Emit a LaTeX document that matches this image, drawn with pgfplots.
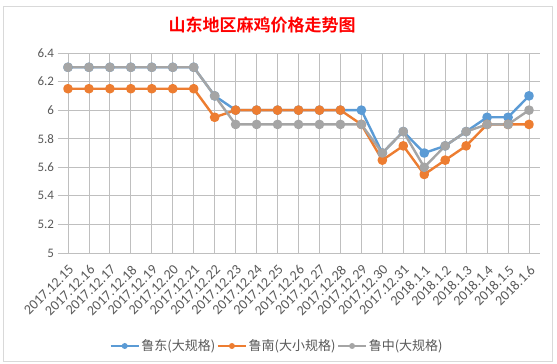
\documentclass[border=0pt]{standalone}
\usepackage{pgfplots}
\pgfplotsset{compat=1.18}
\usepackage{fontspec}
\setmainfont{Carlito}
\newfontfamily\cjk{Noto Sans CJK SC}[BoldFont={Noto Sans CJK SC Bold}]
\definecolor{cblue}{HTML}{5B9BD5}
\definecolor{corange}{HTML}{ED7D31}
\definecolor{cgray}{HTML}{A5A5A5}
\definecolor{txt}{HTML}{595959}
\definecolor{grid}{HTML}{D9D9D9}
\begin{document}
\begin{tikzpicture}[x=1pt,y=1pt]
\useasboundingbox (0,0) rectangle (557,364);
\fill[white] (0,0) rectangle (557,364);
\draw[grid,line width=0.8pt] (3,3) rectangle (552,358);
\node[text=red,font=\cjk\bfseries\fontsize{17}{20}\selectfont] at (262,339) {山东地区麻鸡价格走势图};
\begin{axis}[
  at={(57.5pt,111pt)}, anchor=south west,
  scale only axis, width=482pt, height=200pt,
  xmin=-0.5, xmax=22.5, ymin=5, ymax=6.4,
  ytick={5,5.2,5.4,5.6,5.8,6,6.2,6.4},
  xtick={0,...,22},
  xticklabels={2017.12.15,2017.12.16,2017.12.17,2017.12.18,2017.12.19,2017.12.20,2017.12.21,2017.12.22,2017.12.23,2017.12.24,2017.12.25,2017.12.26,2017.12.27,2017.12.28,2017.12.29,2017.12.30,2017.12.31,2018.1.1,2018.1.2,2018.1.3,2018.1.4,2018.1.5,2018.1.6},
  xticklabel shift=11pt,
  xticklabel style={rotate=45, anchor=north east, font=\fontsize{14}{16}\selectfont, text=txt, inner sep=0pt},
  yticklabel style={font=\fontsize{13}{15}\selectfont, text=txt},
  /pgf/number format/assume math mode=true,
  axis line style={draw=none},
  major tick length=0pt,
  ymajorgrids, major grid style={grid, line width=0.8pt},
  clip=false,
  legend style={at={(0.455,-0.465)}, anchor=center, draw=none, fill=none,
    legend columns=3, font=\cjk\fontsize{13}{15}\selectfont, text=txt,
    nodes={inner sep=1.5pt},
    /tikz/every even column/.append style={column sep=0pt}},
  legend cell align=left,
  legend image code/.code={\draw[#1] (0pt,0pt) -- (28pt,0pt); \fill[#1,draw=none] (14pt,0pt) circle (3pt);},
  every axis plot/.append style={line width=2.4pt, mark=*, mark size=3.6pt, line join=round},
]
\addplot[cblue, mark options={fill=cblue, draw=cblue}] coordinates {
(0,6.3)(1,6.3)(2,6.3)(3,6.3)(4,6.3)(5,6.3)(6,6.3)(7,6.1)(8,6.0)(9,6.0)(10,6.0)(11,6.0)(12,6.0)(13,6.0)(14,6.0)(15,5.7)(16,5.85)(17,5.7)(18,5.75)(19,5.85)(20,5.95)(21,5.95)(22,6.1)};
\addlegendentry{鲁东(大规格)}
\addplot[corange, mark options={fill=corange, draw=corange}] coordinates {
(0,6.15)(1,6.15)(2,6.15)(3,6.15)(4,6.15)(5,6.15)(6,6.15)(7,5.95)(8,6.0)(9,6.0)(10,6.0)(11,6.0)(12,6.0)(13,6.0)(14,5.9)(15,5.65)(16,5.75)(17,5.55)(18,5.65)(19,5.75)(20,5.9)(21,5.9)(22,5.9)};
\addlegendentry{鲁南(大小规格)}
\addplot[cgray, mark options={fill=cgray, draw=cgray}] coordinates {
(0,6.3)(1,6.3)(2,6.3)(3,6.3)(4,6.3)(5,6.3)(6,6.3)(7,6.1)(8,5.9)(9,5.9)(10,5.9)(11,5.9)(12,5.9)(13,5.9)(14,5.9)(15,5.7)(16,5.85)(17,5.6)(18,5.75)(19,5.85)(20,5.9)(21,5.9)(22,6.0)};
\addlegendentry{鲁中(大规格)}
\end{axis}
\end{tikzpicture}
\end{document}
